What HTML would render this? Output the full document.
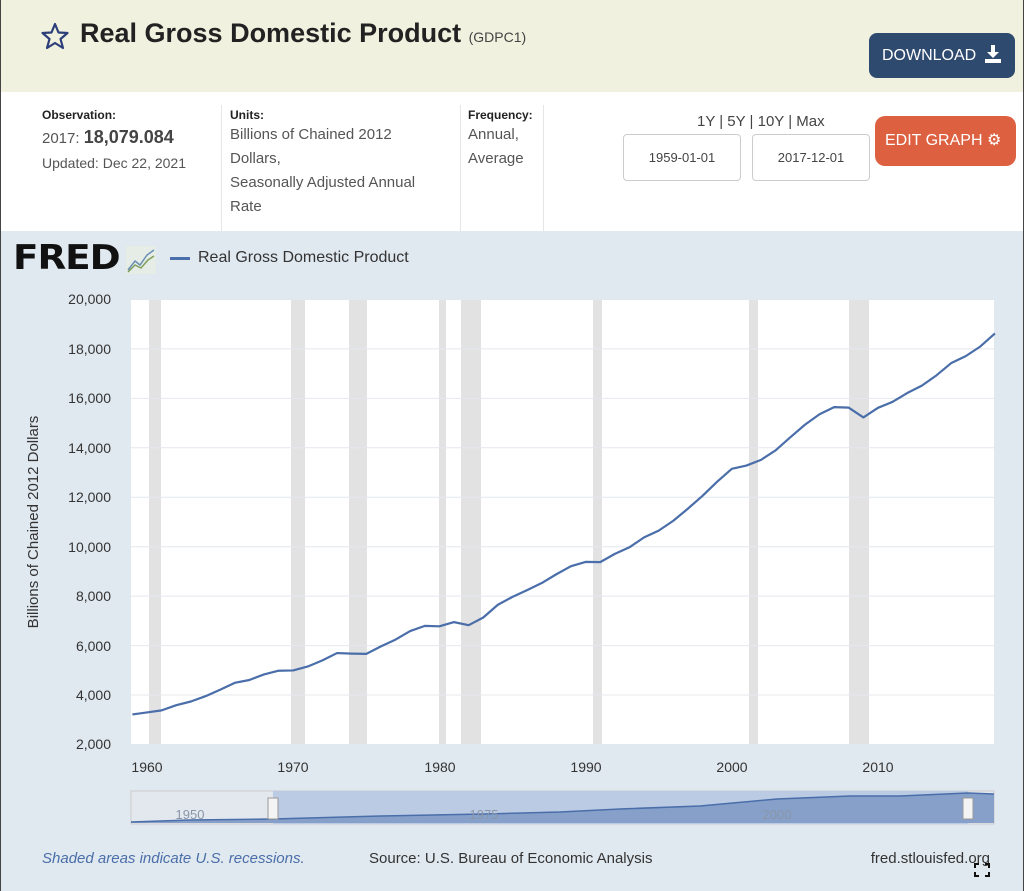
<!DOCTYPE html>
<html><head><meta charset="utf-8"><style>
body{margin:0;width:1024px;height:891px;overflow:hidden;font-family:"Liberation Sans",sans-serif;position:relative;background:#e1e9f0}
.abs{position:absolute}
#hdr{left:0;top:0;width:1024px;height:92px;background:#f0f1de;border-left:1px solid #444;border-right:1px solid #444;box-sizing:border-box}
#info{left:0;top:92px;width:1024px;height:139px;background:#fff;border-left:1px solid #444;border-right:1px solid #444;box-sizing:border-box}
#chart{left:0;top:231px;width:1024px;height:660px;background:#e1e9f0;border-left:1px solid #444;border-right:1px solid #444;box-sizing:border-box}
.lbl{font-size:12px;font-weight:bold;color:#222}
.val{font-size:15px;color:#555;line-height:24px}
</style></head><body>
<div id="hdr" class="abs"></div>
<div id="info" class="abs"></div>
<div id="chart" class="abs"></div>
<svg class="abs" style="left:40px;top:22px" width="30" height="28" viewBox="0 0 30 28"><polygon points="15,2 18.5,10.5 27.5,11 20.5,17 23,26 15,21 7,26 9.5,17 2.5,11 11.5,10.5" fill="none" stroke="#2d3f7a" stroke-width="2.2" stroke-linejoin="round"/></svg>
<div class="abs" style="left:80px;top:18px;font-size:27px;font-weight:bold;color:#222">Real Gross Domestic Product <span style="font-size:14px;font-weight:normal;color:#444">(GDPC1)</span></div>
<div class="abs" style="left:869px;top:33px;width:146px;height:45px;background:#2f4a6f;border-radius:8px;color:#fff;font-size:16px;line-height:45px;text-indent:13px">DOWNLOAD</div>
<svg class="abs" style="left:984px;top:44px" width="18" height="20"><path d="M7 1h4v7h4l-6 6-6-6h4z" fill="#fff"/><rect x="1" y="15" width="16" height="4" fill="#fff"/></svg>
<div class="abs lbl" style="left:42px;top:108px">Observation:</div>
<div class="abs val" style="left:42px;top:125px">2017: <b style="font-size:18px;color:#444">18,079.084</b></div>
<div class="abs" style="left:42px;top:155px;font-size:14px;color:#555">Updated: Dec 22, 2021</div>
<div class="abs" style="left:221px;top:105px;width:1px;height:126px;background:#e6e6e6"></div>
<div class="abs lbl" style="left:230px;top:108px">Units:</div>
<div class="abs val" style="left:230px;top:123px;width:205px">Billions of Chained 2012 Dollars,<br>Seasonally Adjusted Annual Rate</div>
<div class="abs" style="left:460px;top:105px;width:1px;height:126px;background:#e6e6e6"></div>
<div class="abs lbl" style="left:468px;top:108px">Frequency:</div>
<div class="abs val" style="left:468px;top:123px">Annual,<br>Average</div>
<div class="abs" style="left:543px;top:105px;width:1px;height:126px;background:#e6e6e6"></div>
<div class="abs" style="left:697px;top:113px;font-size:15px;color:#444">1Y | 5Y | 10Y | Max</div>
<div class="abs" style="left:623px;top:134px;width:116px;height:45px;border:1px solid #ccc;border-radius:4px;font-size:13px;color:#444;line-height:45px;text-align:center">1959-01-01</div>
<div class="abs" style="left:752px;top:134px;width:116px;height:45px;border:1px solid #ccc;border-radius:4px;font-size:13px;color:#444;line-height:45px;text-align:center">2017-12-01</div>
<div class="abs" style="left:875px;top:116px;width:141px;height:50px;background:#dd6140;border-radius:10px;color:#fff;font-size:16px;line-height:50px;text-indent:10px">EDIT GRAPH &#x2699;</div>
<div class="abs" style="left:13px;top:238px;font-size:34px;font-weight:900;color:#111;letter-spacing:-1px;font-family:'DejaVu Sans',sans-serif;transform:scaleX(1.1);transform-origin:left">FRED</div>
<svg class="abs" style="left:126px;top:246px" width="30" height="28"><rect width="30" height="28" fill="#e6ece6"/><polyline points="2,24 9,15 14,19 21,9 28,4" fill="none" stroke="#6a8fb5" stroke-width="1.5"/><polyline points="2,26 9,19 15,22 22,14 28,10" fill="none" stroke="#7fa05a" stroke-width="1.5"/></svg>
<div class="abs" style="left:170px;top:257px;width:20px;height:3px;background:#4a6ea9"></div>
<div class="abs" style="left:198px;top:249px;font-size:16px;color:#333">Real Gross Domestic Product</div>
<svg class="abs" style="left:0;top:0" width="1024" height="891">
<rect x="131" y="299" width="863" height="445" fill="#fff"/>
<g fill="#e2e2e2">
<rect x="149" y="299" width="12" height="445"/><rect x="291" y="299" width="14" height="445"/><rect x="349" y="299" width="18" height="445"/><rect x="439" y="299" width="7" height="445"/><rect x="461" y="299" width="20" height="445"/><rect x="593" y="299" width="9" height="445"/><rect x="749" y="299" width="9" height="445"/><rect x="849" y="299" width="20" height="445"/>
</g>
<g stroke="#e4e8ee" stroke-width="1">
<line x1="131" x2="994" y1="299.5" y2="299.5"/><line x1="131" x2="994" y1="348.9" y2="348.9"/><line x1="131" x2="994" y1="398.4" y2="398.4"/><line x1="131" x2="994" y1="447.8" y2="447.8"/><line x1="131" x2="994" y1="497.3" y2="497.3"/><line x1="131" x2="994" y1="546.7" y2="546.7"/><line x1="131" x2="994" y1="596.1" y2="596.1"/><line x1="131" x2="994" y1="645.6" y2="645.6"/><line x1="131" x2="994" y1="695" y2="695"/>
</g>
<g font-size="14" fill="#333" text-anchor="end" font-family="Liberation Sans,sans-serif">
<text x="111" y="304">20,000</text><text x="111" y="354">18,000</text><text x="111" y="403">16,000</text><text x="111" y="453">14,000</text><text x="111" y="502">12,000</text><text x="111" y="552">10,000</text><text x="111" y="601">8,000</text><text x="111" y="651">6,000</text><text x="111" y="700">4,000</text><text x="111" y="749">2,000</text>
</g>
<g font-size="14" fill="#333" text-anchor="middle" font-family="Liberation Sans,sans-serif">
<text x="147" y="772">1960</text><text x="293" y="772">1970</text><text x="440" y="772">1980</text><text x="586" y="772">1990</text><text x="732" y="772">2000</text><text x="878" y="772">2010</text>
</g>
<text transform="translate(38,522) rotate(-90)" font-size="15" fill="#333" text-anchor="middle" font-family="Liberation Sans,sans-serif">Billions of Chained 2012 Dollars</text>
<g transform="translate(-28508.2,793.44) scale(14.62,-0.024722)">
<polyline vector-effect="non-scaling-stroke" fill="none" stroke="#4a6ea9" stroke-width="2.2" stroke-linejoin="round" points="1959,3195 1960,3276 1961,3359 1962,3569 1963,3719 1964,3933 1965,4195 1966,4474 1967,4589 1968,4813 1969,4964 1970,4975 1971,5136 1972,5383 1973,5678 1974,5656 1975,5645 1976,5949 1977,6224 1978,6569 1979,6777 1980,6760 1981,6930 1982,6806 1983,7117 1984,7632 1985,7951 1986,8226 1987,8511 1988,8866 1989,9192 1990,9366 1991,9356 1992,9691 1993,9957 1994,10358 1995,10630 1996,11031 1997,11521 1998,12038 1999,12610 2000,13131 2001,13262 2002,13493 2003,13879 2004,14406 2005,14913 2006,15338 2007,15626 2008,15605 2009,15209 2010,15599 2011,15841 2012,16197 2013,16495 2014,16912 2015,17404 2016,17689 2017,18079 2018,18607"/>
</g>
<rect x="131" y="791" width="863" height="33" fill="#e3e8ee" stroke="#ccc"/>
<rect x="273" y="791" width="695" height="33" fill="#bccbe4"/>
<polygon fill="#86a0c9" points="131,823 131,822 190,820 273,819 380,816 484,814 560,812 620,809 700,806 777,799 850,796 900,796 968,793 994,794 994,823"/>
<polyline fill="none" stroke="#4a6ea9" stroke-width="1.5" points="131,822 190,820 273,819 380,816 484,814 560,812 620,809 700,806 777,799 850,796 900,796 968,793 994,794"/>
<g font-size="13" fill="#8a96a8" text-anchor="middle" font-family="Liberation Sans,sans-serif"><text x="190" y="819">1950</text><text x="484" y="819">1975</text><text x="777" y="819">2000</text></g>
<rect x="268" y="798" width="10" height="21" fill="#f4f4f4" stroke="#999"/>
<rect x="963" y="798" width="10" height="21" fill="#f4f4f4" stroke="#999"/>
<text x="42" y="863" font-size="15" fill="#4a6ea9" font-style="italic" font-family="Liberation Sans,sans-serif">Shaded areas indicate U.S. recessions.</text>
<text x="369" y="863" font-size="15" fill="#333" font-family="Liberation Sans,sans-serif">Source: U.S. Bureau of Economic Analysis</text>
<text x="990" y="863" font-size="15" fill="#333" text-anchor="end" font-family="Liberation Sans,sans-serif">fred.stlouisfed.org</text>
<g stroke="#111" stroke-width="2" fill="none"><path d="M975 868v-4h4M985 864h4v4M975 872v4h4M985 876h4v-4"/></g>
</svg>
</body></html>
